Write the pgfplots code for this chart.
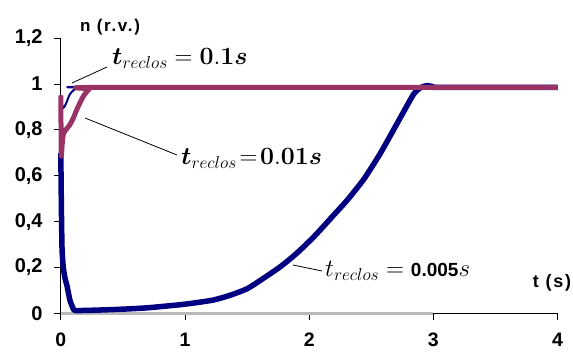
\documentclass[border=0pt]{standalone}
\usepackage{pgfplots}
\pgfplotsset{compat=1.18}
\usepackage{bm}
\usepackage[no-math]{fontspec}
\newfontfamily\numsans{Liberation Sans}
\newfontfamily\widesans{Liberation Sans}[LetterSpace=10]

\definecolor{plum}{RGB}{153,51,102}
\definecolor{navyline}{RGB}{0,0,128}

\begin{document}
\begin{tikzpicture}[x=1pt,y=1pt]
\path[use as bounding box] (0,0) rectangle (573,352);
\begin{axis}[
  at={(60.8pt,38.7pt)}, anchor=origin,
  x=124.2pt, y=229.3pt,
  xmin=0, xmax=4, ymin=0, ymax=1.2,
  axis lines=left,
  axis line style={-, black, line width=0.9pt},
  tick align=outside,
  major tick length=7pt,
  tick style={black, line width=0.9pt},
  xtick={0,1,2,3,4},
  xticklabels={0,1,2,3,4},
  ytick={0,0.2,0.4,0.6,0.8,1,1.2},
  yticklabels={0,{0,2},{0,4},{0,6},{0,8},1,{1,2}},
  xticklabel style={font=\numsans\bfseries\fontsize{19.5}{22}\selectfont, inner sep=0pt, anchor=north, yshift=-12.5pt},
  yticklabel style={font=\numsans\bfseries\fontsize{20}{22}\selectfont, inner sep=0pt, anchor=east, xshift=-11pt},
  clip=false,
]
% grey trace along the time axis
\addplot[gray!55, line width=3pt] coordinates {(0,0) (3,0)};

% t_reclos = 0.005 s
\addplot[navyline, line width=5.5pt, line join=round, smooth, tension=0.35] coordinates {
  (0,0.70) (0.005,0.45) (0.01,0.28) (0.02,0.20) (0.035,0.15) (0.05,0.12)
  (0.073,0.058) (0.1,0.02) (0.12,0.012) (0.3,0.014) (0.5,0.018) (0.7,0.024)
  (0.97,0.038) (1.1,0.047) (1.23,0.058) (1.36,0.078) (1.5,0.107) (1.63,0.152)
  (1.77,0.204) (1.9,0.262) (2.04,0.335) (2.2,0.43) (2.31,0.496) (2.44,0.585)
  (2.57,0.695) (2.71,0.83) (2.84,0.955) (2.9,0.985) (2.95,0.993) (3.0,0.988)
  (3.05,0.985) (4,0.985)
};

% t_reclos = 0.1 s
\addplot[navyline, line width=2pt, line join=round, smooth, tension=0.4] coordinates {
  (0,0.95) (0.01,0.91) (0.02,0.895) (0.04,0.912) (0.07,0.952) (0.1,0.972)
  (0.15,0.986) (0.2,0.988) (0.25,0.985) (4,0.985)
};

% t_reclos = 0.01 s
\addplot[plum, line width=5pt, line join=round, smooth, tension=0.35] coordinates {
  (0,0.95) (0.004,0.69) (0.01,0.73) (0.02,0.78) (0.04,0.80) (0.07,0.82)
  (0.1,0.85) (0.13,0.89) (0.18,0.945) (0.23,0.978) (0.3,0.985) (4,0.985)
};
\end{axis}

% axis titles
\node[font=\widesans\bfseries\fontsize{17}{19}\selectfont, inner sep=0pt] at (110,325) {n (r.v.)};
\node[font=\widesans\bfseries\fontsize{18}{20}\selectfont, inner sep=0pt] at (552,69) {t (s)};

% curve labels with leaders
\draw[black, line width=0.8pt] (72,269) -- (107,285);
\node[anchor=base west, inner sep=0pt, font=\fontsize{26}{29}\selectfont] at (112,287)
  {$\bm{t}_{reclos} = \mathbf{0.1}\bm{s}$};

\draw[black, line width=0.8pt] (85,234) -- (177,197);
\node[anchor=base west, inner sep=0pt, font=\fontsize{25}{28}\selectfont] at (181,187)
  {$\bm{t}_{reclos}\!=\!\mathbf{0.01}\bm{s}$};

\draw[black, line width=0.8pt] (293,87) -- (322,81);
\node[anchor=base west, inner sep=0pt, font=\fontsize{23}{26}\selectfont] at (325,75)
  {$t_{reclos} = \mbox{\numsans\bfseries\fontsize{19}{22}\selectfont 0.005}s$};
\end{tikzpicture}
\end{document}
